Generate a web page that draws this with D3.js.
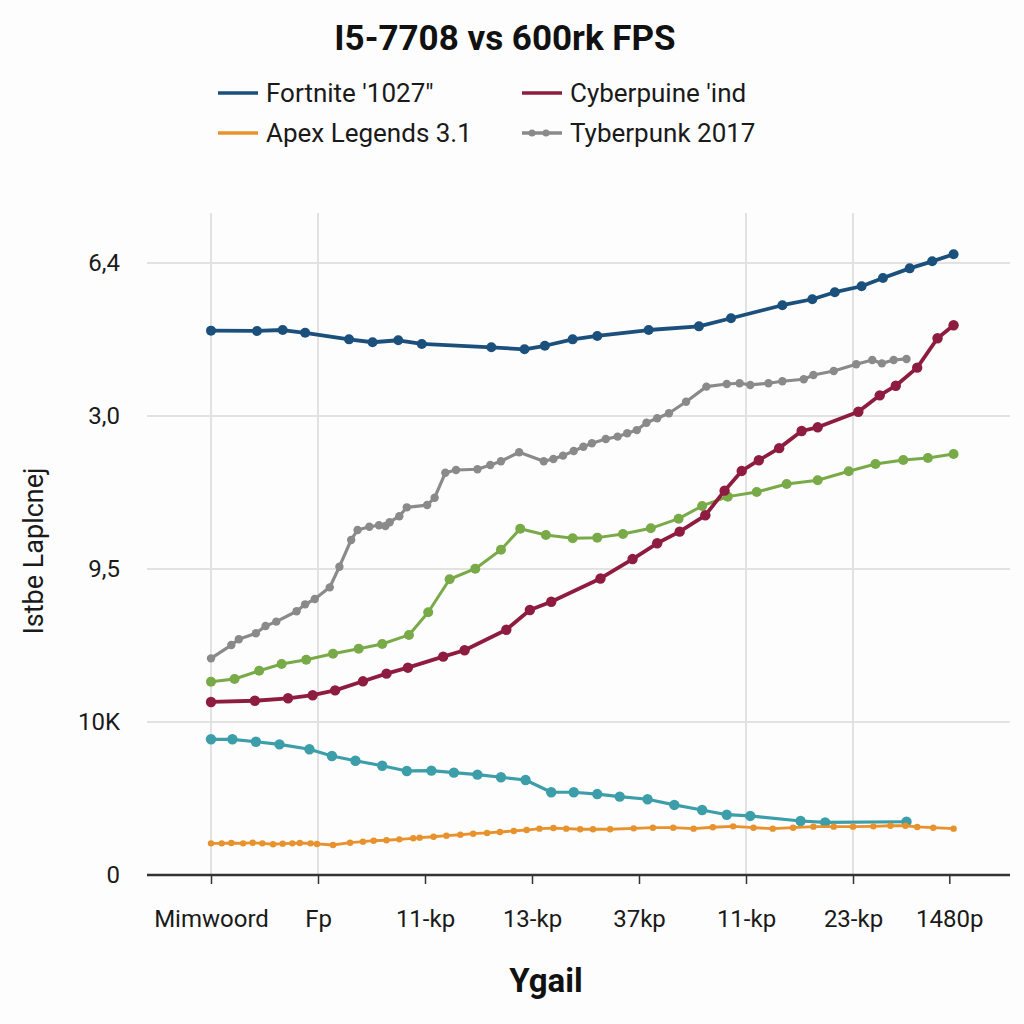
<!DOCTYPE html>
<html>
<head>
<meta charset="utf-8">
<script src="https://cdn.jsdelivr.net/npm/d3@7"></script>
<style>
  html, body { margin: 0; padding: 0; background: #fdfdfd; }
  svg { display: block; font-family: Roboto, "Liberation Sans", Arial, sans-serif; }
</style>
</head>
<body>
<svg id="chart" width="1024" height="1024"></svg>
<script>
// ---------- DATA ----------
const title = "I5-7708 vs 600rk FPS";
const xTitle = "Ygail";
const yTitle = "Istbe Laplcnej";

const xTickValues = [0, 1, 2, 3, 4, 5, 6, 6.9];
const xTickLabels = ["Mimwoord", "Fp", "11-kp", "13-kp", "37kp", "11-kp", "23-kp", "1480p"];
const xGridIdx = [0, 1, 5, 6];

const yTickValues = [0, 10, 20, 30, 40];
const yTickLabels = ["0", "10K", "9,5", "3,0", "6,4"];

const fortniteX = [0, 0.43, 0.67, 0.88, 1.29, 1.51, 1.75, 1.97, 2.62, 2.93, 3.12, 3.38, 3.61, 4.09, 4.56, 4.86, 5.34, 5.62, 5.83, 6.08, 6.28, 6.53, 6.74, 6.94];
const fortniteY = [35.58, 35.56, 35.62, 35.44, 35.01, 34.82, 34.95, 34.71, 34.49, 34.36, 34.59, 35.01, 35.23, 35.62, 35.86, 36.39, 37.24, 37.63, 38.09, 38.48, 39.02, 39.65, 40.11, 40.57];

const cyberX = [0, 0.41, 0.72, 0.95, 1.16, 1.42, 1.64, 1.84, 2.17, 2.37, 2.76, 2.98, 3.18, 3.64, 3.94, 4.17, 4.38, 4.62, 4.80, 4.96, 5.12, 5.31, 5.52, 5.67, 6.05, 6.25, 6.40, 6.60, 6.79, 6.94];
const cyberY = [11.31, 11.39, 11.55, 11.75, 12.07, 12.66, 13.16, 13.55, 14.27, 14.69, 16.03, 17.32, 17.86, 19.38, 20.65, 21.68, 22.44, 23.51, 25.12, 26.41, 27.11, 27.90, 29.02, 29.26, 30.28, 31.35, 31.98, 33.16, 35.08, 35.93];

const apexX = [0, 0.10, 0.19, 0.30, 0.39, 0.48, 0.58, 0.67, 0.76, 0.83, 0.93, 0.99, 1.14, 1.30, 1.42, 1.52, 1.64, 1.76, 1.89, 1.95, 2.08, 2.20, 2.33, 2.45, 2.58, 2.70, 2.83, 2.95, 3.07, 3.20, 3.32, 3.45, 3.57, 3.73, 3.95, 4.13, 4.32, 4.51, 4.69, 4.88, 5.07, 5.25, 5.44, 5.63, 5.82, 6.00, 6.19, 6.35, 6.49, 6.60, 6.75, 6.94];
const apexY = [2.07, 2.07, 2.09, 2.07, 2.11, 2.07, 2.01, 2.05, 2.07, 2.09, 2.07, 2.03, 1.96, 2.11, 2.18, 2.24, 2.27, 2.33, 2.40, 2.44, 2.50, 2.57, 2.63, 2.70, 2.75, 2.81, 2.88, 2.94, 3.03, 3.07, 3.03, 2.99, 2.99, 2.99, 3.05, 3.09, 3.09, 3.03, 3.12, 3.18, 3.09, 3.03, 3.09, 3.16, 3.16, 3.16, 3.18, 3.22, 3.22, 3.14, 3.09, 3.03];

const tyberX = [0, 0.19, 0.26, 0.42, 0.51, 0.61, 0.80, 0.88, 0.97, 1.11, 1.20, 1.31, 1.37, 1.48, 1.57, 1.63, 1.67, 1.76, 1.83, 2.02, 2.09, 2.19, 2.29, 2.49, 2.61, 2.71, 2.88, 3.11, 3.20, 3.29, 3.39, 3.48, 3.56, 3.69, 3.80, 3.89, 3.98, 4.07, 4.17, 4.28, 4.44, 4.63, 4.82, 4.94, 5.04, 5.21, 5.34, 5.54, 5.63, 5.82, 6.03, 6.18, 6.27, 6.38, 6.50];
const tyberY = [14.16, 15.03, 15.41, 15.80, 16.27, 16.56, 17.24, 17.69, 18.04, 18.80, 20.15, 21.90, 22.55, 22.76, 22.86, 22.81, 23.06, 23.45, 24.03, 24.18, 24.66, 26.29, 26.47, 26.52, 26.80, 27.04, 27.63, 27.04, 27.19, 27.41, 27.71, 27.99, 28.22, 28.50, 28.65, 28.87, 29.08, 29.56, 29.85, 30.18, 30.93, 31.92, 32.09, 32.14, 32.03, 32.14, 32.27, 32.40, 32.68, 32.94, 33.38, 33.66, 33.44, 33.66, 33.73];

const greenX = [0, 0.22, 0.45, 0.66, 0.89, 1.14, 1.38, 1.60, 1.85, 2.03, 2.23, 2.47, 2.71, 2.89, 3.13, 3.38, 3.61, 3.85, 4.11, 4.37, 4.59, 4.83, 5.10, 5.38, 5.67, 5.96, 6.21, 6.47, 6.70, 6.94];
const greenY = [12.63, 12.81, 13.35, 13.79, 14.07, 14.46, 14.79, 15.10, 15.69, 17.17, 19.33, 20.02, 21.26, 22.63, 22.22, 22.01, 22.05, 22.29, 22.66, 23.29, 24.12, 24.73, 25.03, 25.56, 25.80, 26.39, 26.86, 27.12, 27.25, 27.52];

const tealX = [0, 0.20, 0.42, 0.64, 0.92, 1.13, 1.35, 1.60, 1.83, 2.06, 2.27, 2.49, 2.71, 2.94, 3.18, 3.39, 3.61, 3.82, 4.08, 4.33, 4.59, 4.82, 5.04, 5.51, 5.74, 6.50];
const tealY = [8.87, 8.87, 8.71, 8.54, 8.22, 7.78, 7.47, 7.14, 6.80, 6.82, 6.69, 6.56, 6.39, 6.21, 5.41, 5.41, 5.29, 5.12, 4.95, 4.58, 4.25, 3.94, 3.86, 3.53, 3.44, 3.48];

const seriesNames = ["Fortnite '1027\"", "Cyberpuine 'ind", "Apex Legends 3.1", "Tyberpunk 2017", "", ""];
const seriesColors = ["#1b4f7c", "#8e1c40", "#e8922e", "#8a8a8a", "#79aa48", "#3b9ea9"];

// ---------- BUILD ----------
const series = [
  { name: seriesNames[0], color: seriesColors[0], xs: fortniteX, ys: fortniteY, lw: 3.8, r: 5, legend: true },
  { name: seriesNames[4], color: seriesColors[4], xs: greenX, ys: greenY, lw: 3, r: 5, legend: false },
  { name: seriesNames[1], color: seriesColors[1], xs: cyberX, ys: cyberY, lw: 3.8, r: 5.2, legend: true },
  { name: seriesNames[3], color: seriesColors[3], xs: tyberX, ys: tyberY, lw: 3.2, r: 4.2, legend: true },
  { name: seriesNames[5], color: seriesColors[5], xs: tealX, ys: tealY, lw: 3.2, r: 5.2, legend: false },
  { name: seriesNames[2], color: seriesColors[2], xs: apexX, ys: apexY, lw: 2.8, r: 3.2, legend: true }
];

const svg = d3.select("#chart");
const left = 147, right = 1010, gridTop = 213;
const font = "Roboto, 'Liberation Sans', sans-serif";

const x = d3.scaleLinear().domain([0, 7]).range([211, 960]);
const y = d3.scaleLinear().domain([0, 40]).range([875, 263]);

svg.append("rect").attr("width", 1024).attr("height", 1024).attr("fill", "#fdfdfd");

// Title
svg.append("text").attr("x", 505).attr("y", 50).attr("text-anchor", "middle")
  .attr("font-size", 35).attr("font-weight", "bold").attr("fill", "#111").text(title);

// Gridlines
svg.append("g").selectAll("line").data(yTickValues.slice(1)).join("line")
  .attr("x1", left).attr("x2", right).attr("y1", d => y(d)).attr("y2", d => y(d))
  .attr("stroke", "#e2e2e2").attr("stroke-width", 2);
svg.append("g").selectAll("line").data(xGridIdx.map(i => xTickValues[i])).join("line")
  .attr("x1", d => x(d)).attr("x2", d => x(d)).attr("y1", gridTop).attr("y2", y(0))
  .attr("stroke", "#e2e2e2").attr("stroke-width", 2);

// X axis
const xAxis = d3.axisBottom(x).tickValues(xTickValues).tickSize(9)
  .tickFormat((d, i) => xTickLabels[i]);
const gx = svg.append("g").attr("transform", `translate(0,${y(0)})`).call(xAxis);
gx.select(".domain").remove();
gx.selectAll(".tick line").attr("stroke", "#333").attr("stroke-width", 1.5);
gx.selectAll(".tick text").attr("font-size", 24).attr("fill", "#1a1a1a")
  .attr("dy", 0).attr("y", 52).attr("font-family", font);
svg.append("line").attr("x1", left).attr("x2", right).attr("y1", y(0)).attr("y2", y(0))
  .attr("stroke", "#333").attr("stroke-width", 2.5);

// Y axis labels
const yAxis = d3.axisLeft(y).tickValues(yTickValues).tickSize(0)
  .tickFormat((d, i) => yTickLabels[i]);
const gy = svg.append("g").attr("transform", `translate(${left},0)`).call(yAxis);
gy.select(".domain").remove();
gy.selectAll(".tick text").attr("font-size", 24).attr("fill", "#1a1a1a")
  .attr("x", -27).attr("font-family", font);

// Axis titles
svg.append("text").attr("transform", "translate(43,551) rotate(-90)").attr("text-anchor", "middle")
  .attr("font-size", 27).attr("fill", "#1a1a1a").text(yTitle);
svg.append("text").attr("x", 546).attr("y", 992).attr("text-anchor", "middle")
  .attr("font-size", 33).attr("font-weight", "bold").attr("fill", "#111").text(xTitle);

// Lines
const line = d3.line().x(d => x(d[0])).y(d => y(d[1]));
series.forEach(s => {
  const pts = s.xs.map((v, i) => [v, s.ys[i]]);
  const g = svg.append("g");
  g.append("path").attr("d", line(pts)).attr("fill", "none")
    .attr("stroke", s.color).attr("stroke-width", s.lw).attr("stroke-linejoin", "round");
  g.selectAll("circle").data(pts).join("circle")
    .attr("cx", d => x(d[0])).attr("cy", d => y(d[1])).attr("r", s.r).attr("fill", s.color);
});

// Legend
const legendItems = series.filter(s => s.legend);
const legendOrder = [seriesNames[0], seriesNames[1], seriesNames[2], seriesNames[3]];
legendOrder.forEach((name, i) => {
  const s = legendItems.find(d => d.name === name);
  const lx = 218 + (i % 2) * 304, ly = 93 + Math.floor(i / 2) * 40;
  const g = svg.append("g").attr("transform", `translate(${lx},${ly})`);
  g.append("line").attr("x1", 0).attr("x2", 40).attr("y1", 0).attr("y2", 0)
    .attr("stroke", s.color).attr("stroke-width", 3.5);
  if (name === seriesNames[3]) {
    g.selectAll("circle").data([10, 24]).join("circle")
      .attr("cx", d => d).attr("cy", 0).attr("r", 3.5).attr("fill", s.color);
  }
  g.append("text").attr("x", 48).attr("y", 0).attr("dy", "0.35em")
    .attr("font-size", 26).attr("fill", "#1a1a1a").text(s.name);
});
</script>
</body>
</html>
